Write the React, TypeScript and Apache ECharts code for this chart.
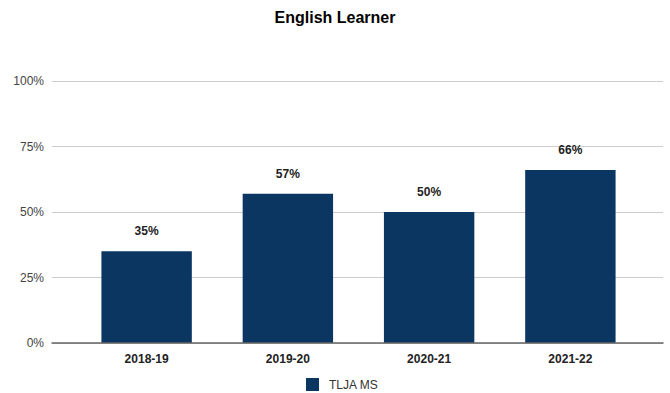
import React, { useEffect, useRef } from "react";
import * as echarts from "echarts";

const categories = ["2018-19", "2019-20", "2020-21", "2021-22"];
const values = [35, 57, 50, 66];
const seriesName = "TLJA MS";
const yTicks = [0, 25, 50, 75, 100];

export default function App() {
  const ref = useRef<HTMLDivElement>(null);
  useEffect(() => {
    const chart = echarts.init(ref.current!, null, { renderer: "svg" });
    const yMin = yTicks[0];
    const yMax = yTicks[yTicks.length - 1];
    chart.setOption({
      animation: false,
      backgroundColor: "#ffffff",
      textStyle: { fontFamily: "Liberation Sans, Arial, sans-serif" },
      title: {
        text: "English Learner",
        left: "center",
        top: 4,
        textStyle: { fontSize: 16, fontWeight: "bold", color: "#000", fontFamily: "Liberation Sans" },
      },
      legend: {
        bottom: -3,
        left: 301,
        itemWidth: 13,
        itemHeight: 13,
        icon: "rect",
        textStyle: { fontSize: 12, color: "#333", fontFamily: "Liberation Sans", padding: [0, 0, 0, 5] },
        data: [seriesName],
      },
      grid: [
        { left: 52, right: 7, top: 81, bottom: 50, containLabel: false },
        { left: 76, right: 29, top: 81, bottom: 50, containLabel: false },
      ],
      xAxis: [
        {
          type: "category",
          gridIndex: 0,
          data: [""],
          axisTick: { show: false },
          axisLabel: { show: false },
          axisLine: { lineStyle: { color: "#666", width: 1.5 } },
          z: 5,
        },
        {
          type: "category",
          gridIndex: 1,
          data: categories,
          axisTick: { show: false },
          axisLine: { show: false },
          axisLabel: { fontWeight: "bold", fontSize: 12, color: "#222", margin: 10, fontFamily: "Liberation Sans" },
        },
      ],
      yAxis: [
        {
          type: "value",
          gridIndex: 0,
          min: yMin,
          max: yMax,
          interval: 25,
          axisLine: { show: false },
          axisTick: { show: false },
          splitLine: { lineStyle: { color: "#cccccc" } },
          axisLabel: { formatter: "{value}%", fontSize: 12, color: "#444", margin: 8, fontFamily: "Liberation Sans" },
        },
        {
          type: "value",
          gridIndex: 1,
          min: yMin,
          max: yMax,
          interval: 25,
          show: false,
          splitLine: { show: false },
        },
      ],
      series: [
        {
          name: seriesName,
          type: "bar",
          xAxisIndex: 1,
          yAxisIndex: 1,
          data: values,
          barWidth: "64%",
          itemStyle: { color: "#0b3661" },
          label: {
            show: true,
            position: "top",
            distance: 14,
            formatter: "{c}%",
            fontWeight: "bold",
            fontSize: 12,
            color: "#222",
            fontFamily: "Liberation Sans",
          },
        },
      ],
    });
    return () => chart.dispose();
  }, []);
  return (
    <div
      ref={ref}
      style={{ position: "absolute", left: 0, top: 0, width: 670, height: 393 }}
    />
  );
}
